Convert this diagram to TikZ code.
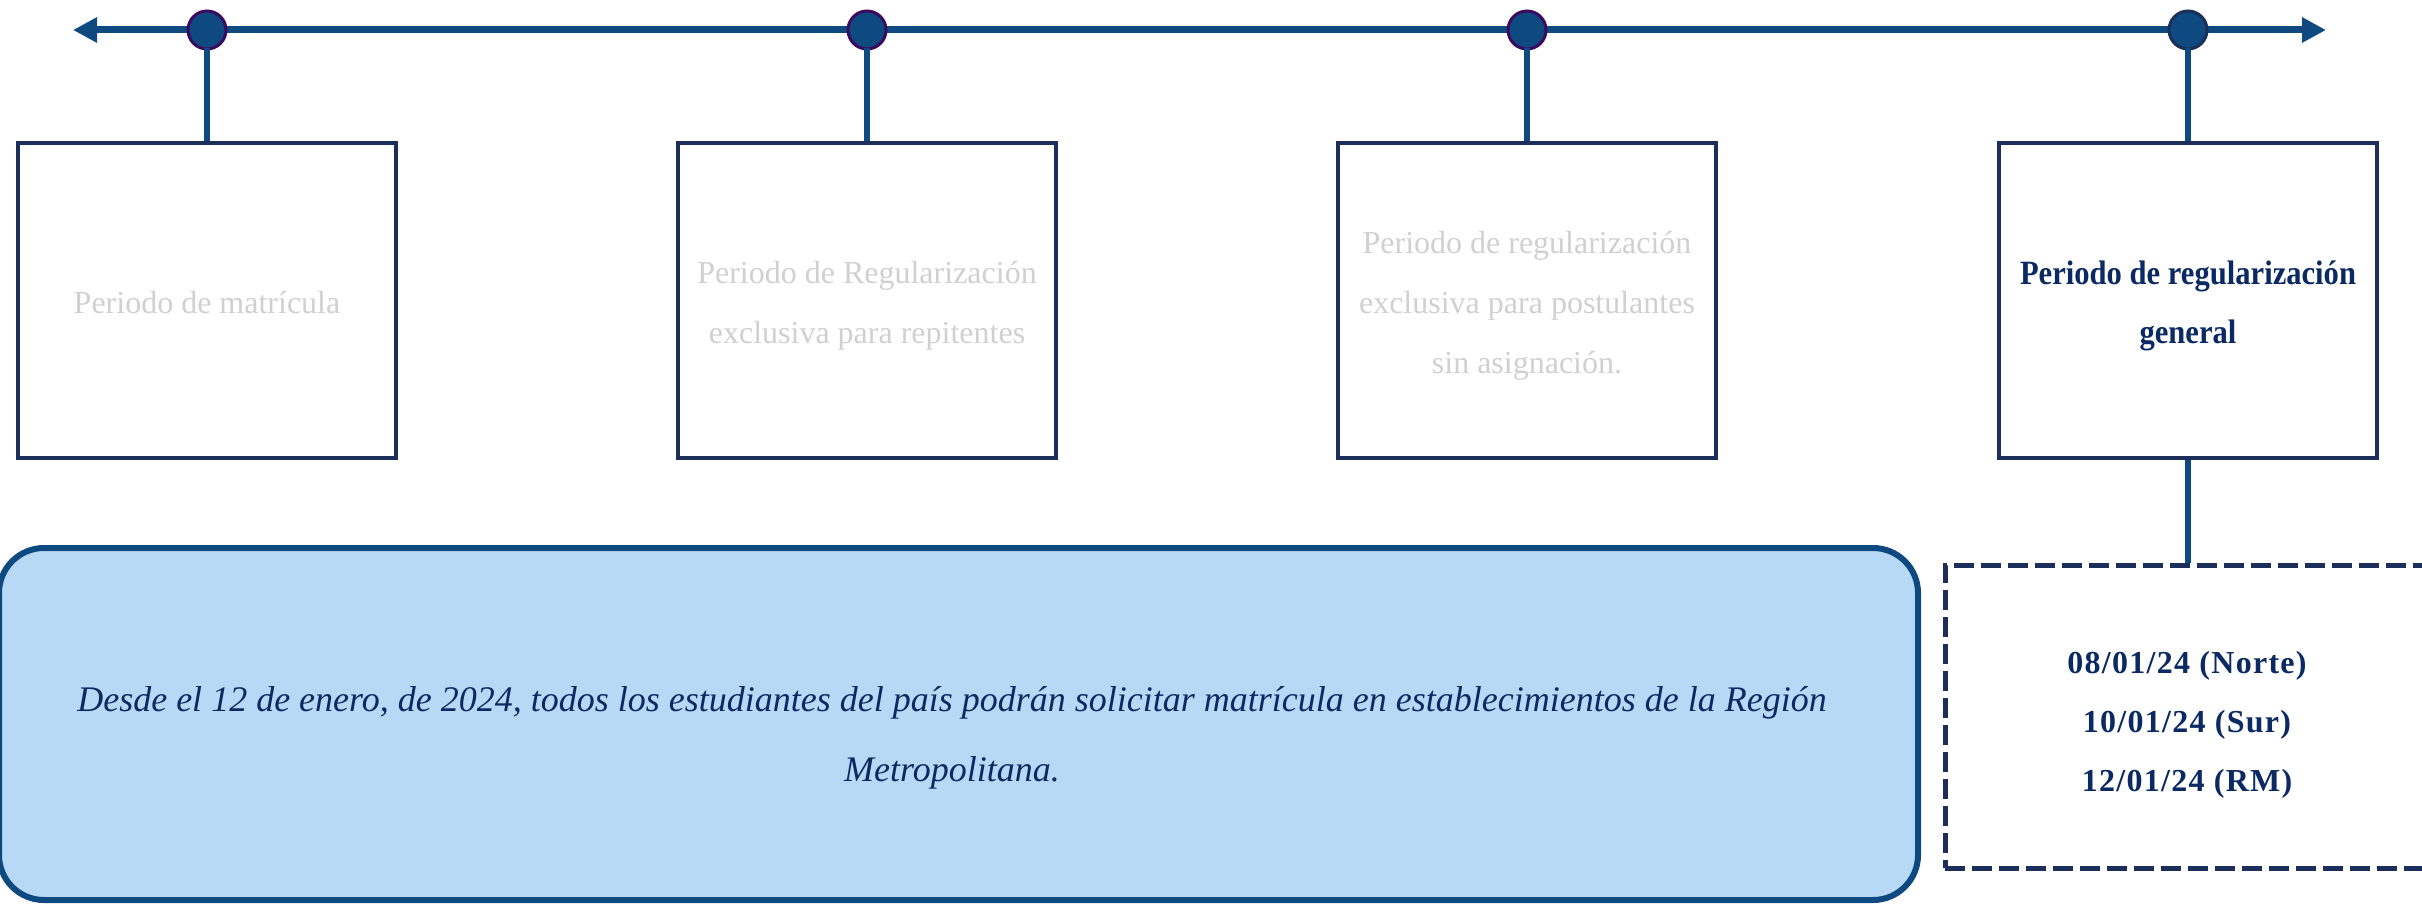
\documentclass[tikz,border=0pt]{standalone}
\usepackage{fontspec}
\setmainfont{Liberation Serif}
\newfontfamily\condserif[FakeStretch=0.9]{Liberation Serif}
\newfontfamily\dateserif[LetterSpace=4]{Liberation Serif}
\usetikzlibrary{arrows.meta}
\definecolor{lineblue}{HTML}{0E4A80}
\definecolor{boxnavy}{HTML}{1B2F5A}
\definecolor{dotedge}{HTML}{3B0A5E}
\definecolor{greytxt}{HTML}{D0D0D0}
\definecolor{darktxt}{HTML}{0B2A63}
\definecolor{notefill}{HTML}{B8D9F5}
\tikzset{
  dot/.style={circle, fill=lineblue, draw=dotedge, line width=3pt, minimum size=38pt, inner sep=0pt},
  period/.style={rectangle, draw=boxnavy, line width=4pt, minimum width=378pt, minimum height=315pt, inner sep=0pt},
  greytext/.style={text=greytxt, font=\fontsize{32}{60}\selectfont, align=center, inner sep=0pt, yshift=-5pt},
  strongtext/.style={text=darktxt, font=\condserif\bfseries\fontsize{34}{59}\selectfont, align=center, inner sep=0pt, yshift=-5pt},
  connector/.style={draw=lineblue, line width=6pt},
}
\begin{document}
\begin{tikzpicture}[x=1pt,y=-1pt]
\useasboundingbox (0,0) rectangle (2422,904);
\clip (0,0) rectangle (2422,904);
% timeline
\coordinate (tl) at (73,30);
\coordinate (tr) at (2326,30);
\draw[line width=7pt, lineblue, {Triangle[length=24pt,width=24pt]}-{Triangle[length=24pt,width=24pt]}] (tl) -- (tr);
\node[dot] (c1) at (207,30) {};
\node[dot] (c2) at (867,30) {};
\node[dot] (c3) at (1527,30) {};
\node[dot, draw=boxnavy] (c4) at (2188,30) {};
% boxes
\node[period, label={[greytext, yshift=3pt]center:Periodo de matrícula}] (b1) at (207,300.5) {};
\node[period, label={[greytext]center:Periodo de Regularización\\exclusiva para repitentes}] (b2) at (867,300.5) {};
\node[period, label={[greytext]center:Periodo de regularización\\exclusiva para postulantes\\sin asignación.}] (b3) at (1527,300.5) {};
\node[period, label={[strongtext]center:Periodo de regularización\\general}] (b4) at (2188,300.5) {};
% connectors
\draw[connector] ([yshift=2pt]c1.south) -- (b1.north);
\draw[connector] ([yshift=2pt]c2.south) -- (b2.north);
\draw[connector] ([yshift=2pt]c3.south) -- (b3.north);
\draw[connector] ([yshift=2pt]c4.south) -- (b4.north);
% dashed date box
\node[rectangle, draw=boxnavy, line width=5pt, dash pattern=on 20pt off 7pt, minimum width=484pt, minimum height=303pt, inner sep=0pt,
  label={[strongtext, yshift=-3pt, font=\dateserif\bfseries\fontsize{32}{59}\selectfont]center:08/01/24 (Norte)\\10/01/24 (Sur)\\12/01/24 (RM)}] (d) at (2187,716.5) {};
\draw[connector] (b4.south) -- (b4.south |- d.north);
% note box
\node[rectangle, rounded corners=45pt, draw=lineblue, fill=notefill, line width=6pt, minimum width=1919pt, minimum height=352pt, inner sep=0pt] (note) at (958.5,724) {};
\node[text=darktxt, font=\itshape\fontsize{36}{70}\selectfont, align=center, inner sep=0pt] (notetext) at (952,738) {Desde el 12 de enero, de 2024, todos los estudiantes del país podrán solicitar matrícula en establecimientos de la Región\\Metropolitana.};
\end{tikzpicture}
\end{document}
